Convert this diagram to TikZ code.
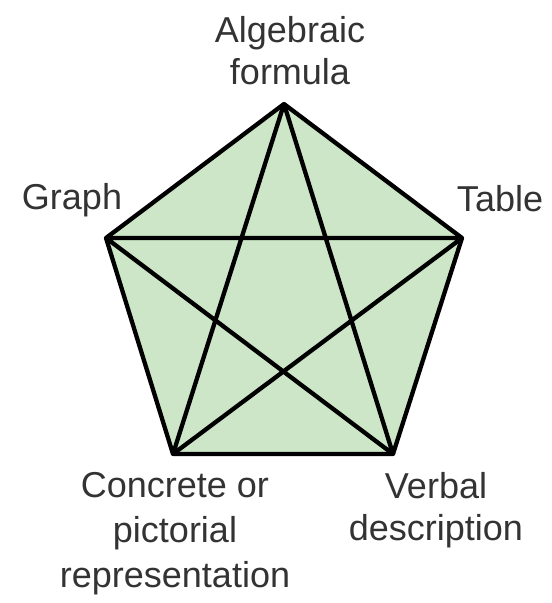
\documentclass[tikz,border=0pt]{standalone}
\usepackage{fontspec}
\setmainfont{Liberation Sans}
\usepackage{tikz}
\usepackage{xcolor}
\definecolor{pentgreen}{RGB}{205,230,200}

\begin{document}
\begin{tikzpicture}[x=1pt,y=-1pt,every node/.style={font=\fontsize{36}{42}\selectfont,align=center,inner sep=0pt,text=black!80}]
\useasboundingbox (0,0) rectangle (552,603);
% corners of the pentagon
\coordinate (alg) at (284,104);
\coordinate (tab) at (462,238);
\coordinate (verb) at (393,454);
\coordinate (conc) at (173,454);
\coordinate (graph) at (106,238);
\fill[pentgreen] (alg) -- (tab) -- (verb) -- (conc) -- (graph) -- cycle;
\draw[line width=4.3pt,line join=round] (alg) -- (tab) -- (verb) -- (conc) -- (graph) -- cycle;
% the star inside
\draw[line width=4.3pt,line join=round] (alg) -- (verb) -- (graph) -- (tab) -- (conc) -- cycle;
% labels
\node[anchor=north] (algl) at (290,16) {Algebraic\\formula};
\node[anchor=base] (graphl) at (72,209) {Graph};
\node[anchor=base] (tabl) at (500,211) {Table};
\node[anchor=north,font=\fontsize{36}{45}\selectfont] (concl) at (175,472) {Concrete or\\pictorial\\representation};
\node[anchor=north] (verbl) at (436,472) {Verbal\\description};
\end{tikzpicture}
\end{document}
